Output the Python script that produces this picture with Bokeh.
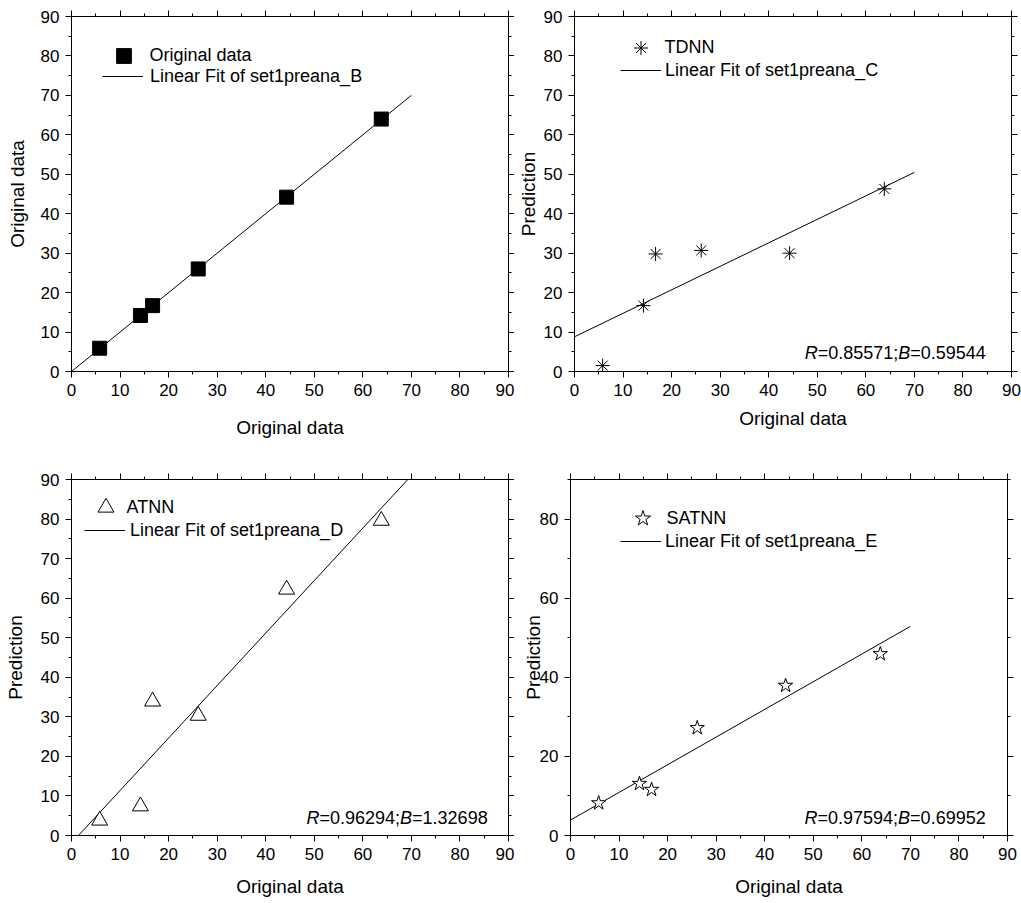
import math
from bokeh.plotting import figure
from bokeh.models import Range1d, FixedTicker, LinearAxis, Legend, LegendItem, Label
from bokeh.layouts import column, row
from bokeh.embed import file_html
from bokeh.resources import INLINE

FONT = "Liberation Sans"

# ---------------- data ----------------
orig_x = [5.8, 14.2, 16.7, 26.1, 44.3, 63.8]
orig_y = [5.9, 14.2, 16.7, 26.0, 44.2, 64.0]
tdnn_y = [1.5, 16.7, 29.8, 30.7, 30.0, 46.3]
atnn_y = [3.8, 7.4, 33.9, 30.3, 62.2, 79.6]
satnn_y = [8.2, 13.1, 11.6, 27.2, 37.9, 45.9]

fit_slopes = [1.0, 0.59544, 1.32698, 0.69952]
fit_intercepts = [0.0, 8.8, -1.9, 3.9]
fit_x_span = [0, 70]

series_names = ["Original data", "TDNN", "ATNN", "SATNN"]
fit_names = ["Linear Fit of set1preana_B", "Linear Fit of set1preana_C",
             "Linear Fit of set1preana_D", "Linear Fit of set1preana_E"]
y_titles = ["Original data", "Prediction", "Prediction", "Prediction"]
x_title = "Original data"
r_values = [None, "0.85571", "0.96294", "0.97594"]
b_values = [None, "0.59544", "1.32698", "0.69952"]

x_major = list(range(0, 91, 10))
x_minor = list(range(5, 90, 10))
y_major_sets = [list(range(0, 91, 10))] * 3 + [list(range(0, 81, 20))]
y_minor_sets = [list(range(5, 90, 10))] * 3 + [list(range(10, 91, 20))]

# ---------------- layout / style per panel ----------------
# mleg: (vx, vy, glyph_height, standoff) for the marker entry
# lleg: (vx, vy, standoff) for the fit-line entry
layouts = [
    dict(bl=71, br=6, bt=16, bb=74, fh=355, xstd=18, ystd=10,
         mleg=(31.5, 297.5, 37, 6), lleg=(31, 284, 7), rtxt=None),
    dict(bl=56, br=14, bt=16, bb=74, fh=355, xstd=9, ystd=2,
         mleg=(45.5, 306.5, 35, 4), lleg=(46, 290, 4), rtxt=(47.4, 4.8)),
    dict(bl=71, br=6, bt=34, bb=68, fh=356, xstd=13, ystd=12,
         mleg=(13.5, 308, 40, 1), lleg=(13, 294, 5), rtxt=(48.4, 4.55)),
    dict(bl=56, br=14, bt=34, bb=68, fh=356, xstd=13, ystd=-7,
         mleg=(51.5, 297, 40, 4), lleg=(50, 283, 4), rtxt=(48.2, 4.3)),
]
ys = [orig_y, tdnn_y, atnn_y, satnn_y]


def style_axis(ax, show_labels, ticks=None):
    ax.axis_line_color = "black"
    ax.axis_line_width = 1
    ax.major_tick_line_color = "black"
    ax.minor_tick_line_color = "black"
    ax.major_tick_out = 6
    ax.major_tick_in = 0
    ax.minor_tick_out = 3
    ax.minor_tick_in = 0
    if show_labels:
        ax.major_label_text_font = FONT
        ax.major_label_text_font_size = "17px"
        ax.major_label_text_color = "black"
        ax.major_label_standoff = 6
        ax.axis_label_text_font = FONT
        ax.axis_label_text_font_size = "19px"
        ax.axis_label_text_font_style = "normal"
        ax.axis_label_text_color = "black"
    else:
        # mirrored axis: ticks only, no tick labels
        ax.major_label_overrides = {float(t): "" for t in ticks}
        ax.major_label_text_font_size = "1px"
        ax.major_label_standoff = 0
        ax.axis_label = None


def make_legend(items, loc, gh, std):
    return Legend(items=items, location=loc, padding=0, margin=0,
                  border_line_color=None, background_fill_alpha=0,
                  glyph_width=41, glyph_height=gh, label_height=gh,
                  spacing=0, label_standoff=std,
                  label_text_font=FONT, label_text_font_size="18px",
                  label_text_color="black")


def make_panel(i):
    L = layouts[i]
    p = figure(frame_width=437, frame_height=L["fh"],
               min_border_left=L["bl"], min_border_right=L["br"],
               min_border_top=L["bt"], min_border_bottom=L["bb"],
               x_range=Range1d(0, 90), y_range=Range1d(0, 90),
               output_backend="svg", toolbar_location=None,
               background_fill_color="white", border_fill_color="white")
    p.grid.visible = False
    p.outline_line_color = "black"
    p.outline_line_width = 1

    p.xaxis.ticker = FixedTicker(ticks=x_major, minor_ticks=x_minor)
    p.yaxis.ticker = FixedTicker(ticks=y_major_sets[i], minor_ticks=y_minor_sets[i])
    style_axis(p.xaxis[0], True)
    style_axis(p.yaxis[0], True)
    p.xaxis.axis_label = x_title
    p.yaxis.axis_label = y_titles[i]
    p.xaxis.axis_label_standoff = L["xstd"]
    p.yaxis.axis_label_standoff = L["ystd"]

    top = LinearAxis(ticker=FixedTicker(ticks=x_major, minor_ticks=x_minor))
    style_axis(top, False, x_major)
    p.add_layout(top, "above")
    right = LinearAxis(ticker=FixedTicker(ticks=y_major_sets[i], minor_ticks=y_minor_sets[i]))
    style_axis(right, False, y_major_sets[i])
    p.add_layout(right, "right")

    # fit line
    fx = fit_x_span
    fy = [fit_slopes[i] * v + fit_intercepts[i] for v in fx]
    rfit = p.line(fx, fy, line_color="black", line_width=1)

    y = ys[i]
    if i == 0:
        r = p.scatter(orig_x, y, marker="square", size=14,
                      fill_color="black", line_color="black")
    elif i == 1:
        r = p.scatter(orig_x, y, marker="asterisk", size=14,
                      line_color="black", line_width=1)
    elif i == 2:
        r = p.scatter(orig_x, y, marker="triangle", size=16,
                      fill_color="white", line_color="black", line_width=1)
    else:
        r = p.scatter(orig_x, y, marker="star", size=15,
                      fill_color="white", line_color="black", line_width=1)

    mvx, mvy, mgh, mstd = L["mleg"]
    lvx, lvy, lstd = L["lleg"]
    p.add_layout(make_legend([LegendItem(label=series_names[i], renderers=[r])],
                             (mvx, mvy), mgh, mstd), "center")
    p.add_layout(make_legend([LegendItem(label=fit_names[i], renderers=[rfit])],
                             (lvx, lvy), 22, lstd), "center")

    if L["rtxt"] is not None:
        rx, ry = L["rtxt"]
        parts = [("R", "italic"), ("=" + r_values[i] + ";", "normal"),
                 ("B", "italic"), ("=" + b_values[i], "normal")]
        # Arial/Liberation advance widths (per 1000 em)
        widths = {"R": 722, "B": 667, "=": 584, ".": 278, ";": 278}
        off = 0.0
        for txt, style in parts:
            p.add_layout(Label(x=rx, y=ry, x_offset=off, text=txt,
                               text_font=FONT, text_font_size="18px",
                               text_font_style=style, text_color="black",
                               text_baseline="middle", text_align="left"))
            off += sum(widths.get(c, 556) for c in txt) / 1000 * 18
    return p


panels = [make_panel(i) for i in range(4)]
layout = column(row(panels[0], panels[1], spacing=0),
                row(panels[2], panels[3], spacing=0), spacing=0)

open("out.html", "w").write(file_html(layout, INLINE))
